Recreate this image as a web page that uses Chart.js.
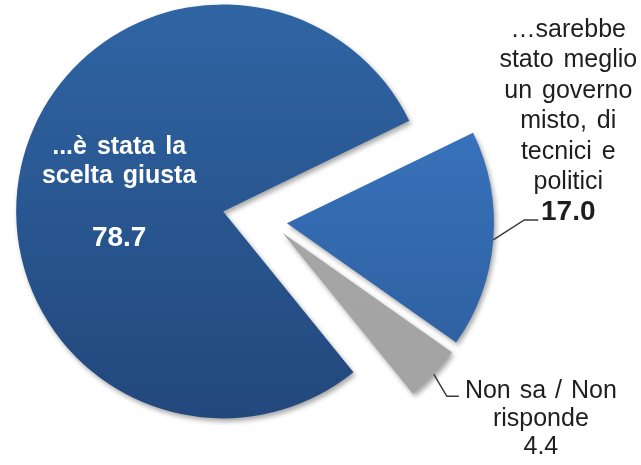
<!DOCTYPE html>
<html>
<head>
<meta charset="utf-8">
<script src="https://cdn.jsdelivr.net/npm/chart.js@4/dist/chart.umd.min.js"></script>
<style>
  body { margin: 0; background: #fff; }
  canvas { display: block; }
</style>
</head>
<body>
<canvas id="pie" width="641" height="465"></canvas>
<script>
const categories = ['…è stata la scelta giusta', '…sarebbe stato meglio un governo misto, di tecnici e politici', 'Non sa / Non risponde'];
const values = [78.7, 17.0, 4.4];
const labelLines = [
  ['...è stata la', 'scelta giusta'],
  ['…sarebbe', 'stato meglio', 'un governo', 'misto, di', 'tecnici e', 'politici'],
  ['Non sa / Non', 'risponde']
];
const valueLabels = ['78.7', '17.0', '4.4'];

const RADIUS = 207;
const EXPLODE = [49, 16, 16];
const FONT = "'Liberation Sans', Arial, sans-serif";

// top / bottom colours of each slice gradient
const sliceColors = [
  ['#2f64a3', '#22477b'],
  ['#3c7bc8', '#2b5b98'],
  ['#a8a8a8', '#a3a3a3']
];

function sliceFill(context) {
  const chart = context.chart;
  const area = chart.chartArea;
  const c = sliceColors[context.dataIndex];
  if (!area) return c[0];
  const cy = (area.top + area.bottom) / 2;
  const g = chart.ctx.createLinearGradient(0, cy - RADIUS, 0, cy + RADIUS);
  g.addColorStop(0, c[0]);
  g.addColorStop(1, c[1]);
  return g;
}

// point at a fraction of the radius along the slice's mid angle
function arcPoint(arc, frac) {
  const mid = (arc.startAngle + arc.endAngle) / 2;
  return {
    x: arc.x + Math.cos(mid) * arc.outerRadius * frac,
    y: arc.y + Math.sin(mid) * arc.outerRadius * frac
  };
}

// pull slices apart along their mid angle (chart.js "offset" also grows the radius)
const explode = {
  id: 'explode',
  afterDatasetUpdate(chart, args) {
    args.meta.data.forEach((arc, i) => {
      const mid = (arc.startAngle + arc.endAngle) / 2;
      arc.x += Math.cos(mid) * EXPLODE[i];
      arc.y += Math.sin(mid) * EXPLODE[i];
    });
  }
};

const pieLabels = {
  id: 'pieLabels',
  beforeDatasetsDraw(chart) {
    const ctx = chart.ctx;
    ctx.save();
    ctx.shadowColor = 'rgba(0,0,0,0.35)';
    ctx.shadowBlur = 5;
    ctx.shadowOffsetX = 2;
    ctx.shadowOffsetY = 3;
  },
  afterDatasetsDraw(chart) {
    const ctx = chart.ctx;
    ctx.restore();
    const arcs = chart.getDatasetMeta(0).data;

    ctx.save();
    ctx.textAlign = 'center';
    ctx.textBaseline = 'alphabetic';
    ctx.wordSpacing = '3px';

    // big slice: text inside
    const a = arcPoint(arcs[0], 0.5);
    ctx.fillStyle = '#ffffff';
    ctx.font = 'bold 25px ' + FONT;
    ctx.fillText(labelLines[0][0], a.x - 3, a.y - 35);
    ctx.fillText(labelLines[0][1], a.x - 3, a.y - 6);
    ctx.font = 'bold 28px ' + FONT;
    ctx.fillText(valueLabels[0], a.x - 3, a.y + 57);

    ctx.strokeStyle = '#3a3a3a';
    ctx.lineWidth = 1.5;

    // second slice: leader up-right, text block above
    const p = arcPoint(arcs[1], 1);
    const base = p.y - 20;
    ctx.beginPath();
    ctx.moveTo(p.x, p.y);
    ctx.lineTo(p.x + 31, base);
    ctx.lineTo(p.x + 45, base);
    ctx.stroke();
    ctx.fillStyle = '#1e1e1e';
    ctx.font = '25px ' + FONT;
    const tx = p.x + 75;
    labelLines[1].forEach((line, i) => {
      ctx.fillText(line, tx, base - 30.5 * (labelLines[1].length - i));
    });
    ctx.font = 'bold 28px ' + FONT;
    ctx.fillText(valueLabels[1], tx, base);

    // third slice: leader down-right, text to the right
    const q = arcPoint(arcs[2], 1);
    ctx.beginPath();
    ctx.moveTo(q.x, q.y);
    ctx.lineTo(q.x + 13, q.y + 22);
    ctx.lineTo(q.x + 25, q.y + 22);
    ctx.stroke();
    ctx.font = '25px ' + FONT;
    ctx.wordSpacing = '2px';
    const ux = q.x + 107;
    const ub = q.y + 24;
    ctx.fillText(labelLines[2][0], ux, ub);
    ctx.fillText(labelLines[2][1], ux, ub + 28);
    ctx.fillText(valueLabels[2], ux, ub + 56);
    ctx.restore();
  }
};

new Chart(document.getElementById('pie'), {
  type: 'pie',
  data: {
    labels: categories,
    datasets: [{
      data: values,
      backgroundColor: sliceFill,
      borderWidth: 0,
      clip: false
    }]
  },
  options: {
    responsive: false,
    animation: false,
    rotation: 141,
    radius: RADIUS,
    layout: {
      padding: { left: 0, right: 99, top: 0, bottom: 21 }
    },
    plugins: {
      legend: { display: false },
      tooltip: { enabled: false }
    }
  },
  plugins: [explode, pieLabels]
});
</script>
</body>
</html>
